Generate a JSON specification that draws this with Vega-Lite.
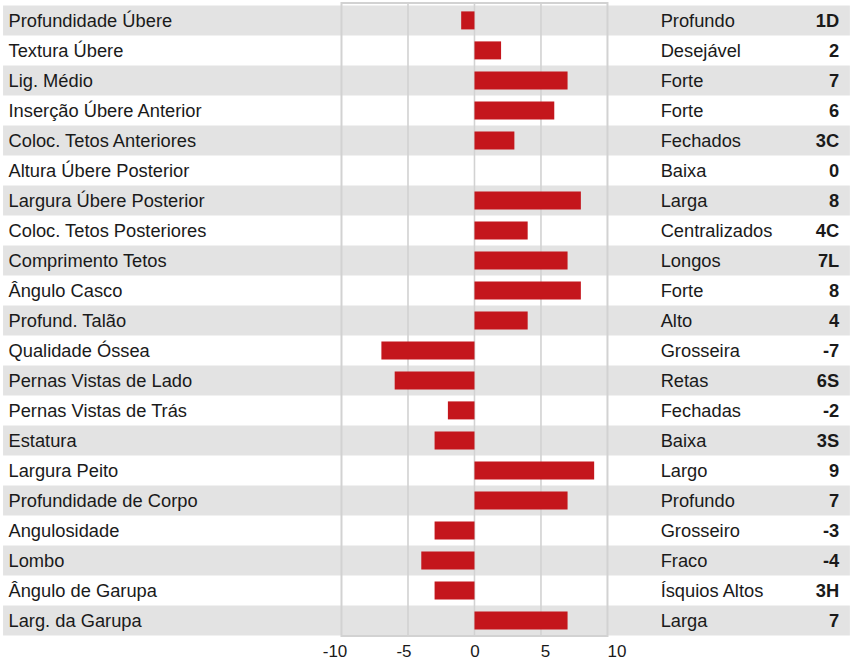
{
  "$schema": "https://vega.github.io/schema/vega-lite/v6.json",
  "width": 858,
  "height": 633,
  "autosize": {"type": "none"},
  "padding": {"top": 3, "bottom": 25, "left": 0, "right": 0},
  "config": {
    "view": {"stroke": null},
    "font": "Liberation Sans",
    "text": {"font": "Liberation Sans", "fontSize": 18.3, "color": "#1a1a1a"}
  },
  "datasets": {
    "rows": [
      {"i": 0, "label": "Profundidade Úbere", "dir": "Profundo", "score": "1D", "value": -1},
      {"i": 1, "label": "Textura Úbere", "dir": "Desejável", "score": "2", "value": 2},
      {"i": 2, "label": "Lig. Médio", "dir": "Forte", "score": "7", "value": 7},
      {"i": 3, "label": "Inserção Úbere Anterior", "dir": "Forte", "score": "6", "value": 6},
      {"i": 4, "label": "Coloc. Tetos Anteriores", "dir": "Fechados", "score": "3C", "value": 3},
      {"i": 5, "label": "Altura Úbere Posterior", "dir": "Baixa", "score": "0", "value": 0},
      {"i": 6, "label": "Largura Úbere Posterior", "dir": "Larga", "score": "8", "value": 8},
      {"i": 7, "label": "Coloc. Tetos Posteriores", "dir": "Centralizados", "score": "4C", "value": 4},
      {"i": 8, "label": "Comprimento Tetos", "dir": "Longos", "score": "7L", "value": 7},
      {"i": 9, "label": "Ângulo Casco", "dir": "Forte", "score": "8", "value": 8},
      {"i": 10, "label": "Profund. Talão", "dir": "Alto", "score": "4", "value": 4},
      {"i": 11, "label": "Qualidade Óssea", "dir": "Grosseira", "score": "-7", "value": -7},
      {"i": 12, "label": "Pernas Vistas de Lado", "dir": "Retas", "score": "6S", "value": -6},
      {"i": 13, "label": "Pernas Vistas de Trás", "dir": "Fechadas", "score": "-2", "value": -2},
      {"i": 14, "label": "Estatura", "dir": "Baixa", "score": "3S", "value": -3},
      {"i": 15, "label": "Largura Peito", "dir": "Largo", "score": "9", "value": 9},
      {"i": 16, "label": "Profundidade de Corpo", "dir": "Profundo", "score": "7", "value": 7},
      {"i": 17, "label": "Angulosidade", "dir": "Grosseiro", "score": "-3", "value": -3},
      {"i": 18, "label": "Lombo", "dir": "Fraco", "score": "-4", "value": -4},
      {"i": 19, "label": "Ângulo de Garupa", "dir": "Ísquios Altos", "score": "3H", "value": -3},
      {"i": 20, "label": "Larg. da Garupa", "dir": "Larga", "score": "7", "value": 7}
    ],
    "grid": [{"g": -5}, {"g": 0}, {"g": 5}],
    "frame": [{"a": -10, "b": 10}]
  },
  "layer": [
    {
      "data": {"name": "rows"},
      "transform": [{"filter": "datum.i % 2 == 0"}],
      "mark": {"type": "rect", "color": "#e3e3e3"},
      "encoding": {
        "y": {"field": "label", "type": "nominal", "sort": null, "axis": null,
              "scale": {"domain": ["Profundidade Úbere","Textura Úbere","Lig. Médio","Inserção Úbere Anterior","Coloc. Tetos Anteriores","Altura Úbere Posterior","Largura Úbere Posterior","Coloc. Tetos Posteriores","Comprimento Tetos","Ângulo Casco","Profund. Talão","Qualidade Óssea","Pernas Vistas de Lado","Pernas Vistas de Trás","Estatura","Largura Peito","Profundidade de Corpo","Angulosidade","Lombo","Ângulo de Garupa","Larg. da Garupa"],
                        "paddingInner": 0, "paddingOuter": 0.05, "align": 0.8}},
        "x": {"datum": -35.45, "type": "quantitative"},
        "x2": {"datum": 28.23}
      }
    },
    {
      "data": {"name": "grid"},
      "mark": {"type": "rule", "color": "#d2d2d2", "strokeWidth": 1.6},
      "encoding": {"x": {"field": "g", "type": "quantitative"}}
    },
    {
      "data": {"name": "frame"},
      "mark": {"type": "rect", "fill": null, "stroke": "#d2d2d2", "strokeWidth": 2},
      "encoding": {
        "x": {"field": "a", "type": "quantitative"},
        "x2": {"field": "b"}
      }
    },
    {
      "data": {"name": "rows"},
      "mark": {"type": "bar", "color": "#c4161c", "height": {"band": 0.6}},
      "encoding": {
        "y": {"field": "label", "type": "nominal", "sort": null, "axis": null},
        "x": {"field": "value", "type": "quantitative",
              "scale": {"domain": [-35.68, 28.84], "nice": false, "zero": false},
              "axis": {"values": [-10, -5, 0, 5, 10], "grid": false, "domain": false, "ticks": false,
                       "title": null, "labelFont": "Liberation Sans", "labelFontSize": 17,
                       "labelColor": "#1a1a1a", "labelPadding": 7, "labelFlush": false,
                       "labelExpr": "datum.value + ''",
                       "labelOffset": {"condition": [
                         {"test": "datum.value == -10", "value": -7},
                         {"test": "datum.value == -5", "value": -4.5},
                         {"test": "datum.value == 5", "value": 4},
                         {"test": "datum.value == 10", "value": 9}
                       ], "value": 0}}}
      }
    },
    {
      "data": {"name": "rows"},
      "mark": {"type": "text", "align": "left", "baseline": "middle", "dy": 1.5},
      "encoding": {
        "y": {"field": "label", "type": "nominal", "sort": null, "axis": null},
        "x": {"datum": -35.04, "type": "quantitative"},
        "text": {"field": "label"}
      }
    },
    {
      "data": {"name": "rows"},
      "mark": {"type": "text", "align": "left", "baseline": "middle", "dy": 1.5},
      "encoding": {
        "y": {"field": "label", "type": "nominal", "sort": null, "axis": null},
        "x": {"datum": 14.0, "type": "quantitative"},
        "text": {"field": "dir"}
      }
    },
    {
      "data": {"name": "rows"},
      "mark": {"type": "text", "align": "right", "baseline": "middle", "fontWeight": "bold", "dy": 1.5},
      "encoding": {
        "y": {"field": "label", "type": "nominal", "sort": null, "axis": null},
        "x": {"datum": 27.43, "type": "quantitative"},
        "text": {"field": "score"}
      }
    }
  ]
}
